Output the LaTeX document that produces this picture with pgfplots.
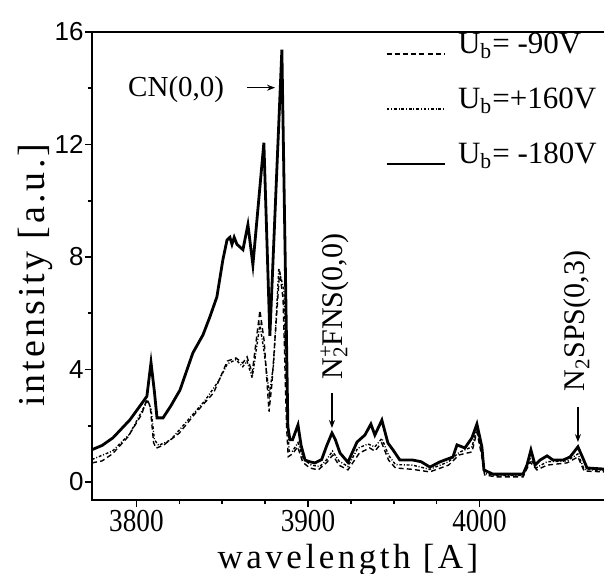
\documentclass[border=0pt]{standalone}
\usepackage{fontspec}
\setmainfont{Liberation Serif}
\newfontfamily\arialfont{Liberation Sans}
\usepackage{graphicx}
\usepackage{pgfplots}
\pgfplotsset{compat=1.18}
\usetikzlibrary{arrows.meta}

% spectra (intensity in a.u. vs wavelength in A)
\pgfplotstableread{
x y
3774.1 0.68
3780 0.75
3786 1.0
3795 1.6
3803 2.4
3806.1 2.95
3808 2.7
3810 1.4
3811.5 1.2
3816 1.32
3825 1.74
3835 2.49
3845 3.17
3853 4.3
3858 4.41
3862 4.23
3864.5 4.45
3867.5 3.88
3872 6.1
3874.5 5.0
3877.3 2.5
3879 3.5
3883.5 7.5
3885.5 6.5
3887.5 2.0
3888.5 0.9
3891 1.0
3894 1.25
3897 0.7
3901 0.5
3906 0.43
3911 0.7
3914.5 0.96
3918 0.6
3923.3 0.43
3930 1.03
3936 1.21
3939 1.1
3943 1.39
3947 0.78
3951 0.5
3961 0.45
3971 0.36
3982 0.6
3988 0.96
3995.6 1.07
3998.5 1.78
4001.4 0.9
4003 0.25
4010 0.18
4025.4 0.18
4029.5 0.71
4033.5 0.43
4039.4 0.6
4051 0.68
4057.4 0.89
4061 0.39
4072.6 0.36
}\minusninety

\pgfplotstableread{
x y
3774.1 0.8
3786 1.1
3796 1.7
3803 2.5
3806.5 2.9
3808.5 2.6
3810.5 1.5
3813 1.3
3820 1.5
3830 2.2
3840 2.9
3848 3.6
3853 4.2
3858 4.35
3862 4.1
3864.5 4.3
3867.5 3.7
3872 5.6
3874.5 4.6
3877.5 3.1
3880 4.2
3883 7.6
3886 6.8
3887.8 2.5
3889 1.1
3891 1.1
3894.2 1.4
3897.5 0.8
3902 0.6
3907 0.55
3911 0.8
3914.3 1.1
3918 0.75
3923.3 0.55
3929 1.2
3935 1.35
3939 1.25
3943.1 1.55
3947 0.95
3951 0.62
3961 0.6
3971 0.45
3982 0.72
3988 1.05
3995.6 1.25
3998.5 1.9
4001.4 1.0
4003 0.3
4010 0.23
4025.4 0.23
4029 0.9
4033 0.5
4039.4 0.72
4051 0.75
4057.4 1.0
4061 0.45
4072.6 0.4
}\plusonesixty

\pgfplotstableread{
x y
3774.1 1.15
3780 1.3
3786.3 1.57
3796.2 2.21
3803.8 2.85
3806.1 3.05
3808.5 4.25
3810.5 3.2
3812.0 2.28
3815.5 2.28
3820 2.7
3825.4 3.27
3832.9 4.59
3838.8 5.23
3843 5.9
3846.9 6.58
3850.4 7.9
3852.8 8.6
3854.5 8.7
3855.7 8.45
3857 8.7
3858.6 8.45
3862.1 8.26
3865.0 9.15
3867.9 7.72
3874.3 12.06
3877.8 5.2
3884.8 15.37
3888.3 1.96
3889.5 1.5
3891 1.5
3894.2 2.03
3896 1.3
3898.3 0.78
3901 0.72
3904.1 0.68
3908 0.8
3911 1.3
3914.0 1.74
3916 1.5
3918.7 1.03
3923.3 0.7
3928.6 1.42
3933.2 1.67
3936.7 2.06
3939.0 1.67
3943.1 2.2
3946.6 1.39
3949.6 1.14
3953.6 0.78
3961.2 0.78
3966 0.72
3971.1 0.53
3976.7 0.71
3984.5 0.89
3986.9 1.32
3991.5 1.21
3995.6 1.57
3998.5 2.06
4001.4 1.25
4002.6 0.43
4007.8 0.28
4025.4 0.28
4027.7 0.6
4030.0 1.14
4032.4 0.6
4035.3 0.78
4039.4 0.93
4042.9 0.78
4048.7 0.78
4052.8 0.89
4057.4 1.25
4060.3 0.85
4062.7 0.5
4072.6 0.46
}\minusoneeighty

\begin{document}
\begin{tikzpicture}
\useasboundingbox (0,0) rectangle (302pt,286.5pt);
\begin{axis}[
  at={(46pt,36.5pt)}, anchor=south west,
  width=256pt, height=234pt, scale only axis,
  xmin=3774.1, xmax=4072.6, ymin=-0.64, ymax=16,
  axis line style={draw=none},
  xtick={3800,3900,4000},
  xticklabels={\scalebox{0.85}[1]{3800},\scalebox{0.85}[1]{3900},\scalebox{0.85}[1]{4000}},
  minor x tick num=3,
  ytick={0,4,8,12,16}, minor y tick num=1,
  tick align=outside, xtick pos=bottom, ytick pos=left,
  major tick length=3.5pt, minor tick length=2.2pt,
  tick style={black, line width=0.8pt},
  /pgf/number format/assume math mode=true,
  yticklabel style={font=\arialfont\fontsize{13}{15}\selectfont, inner sep=0.5pt},
  xticklabel style={font=\fontsize{16}{18}\selectfont, inner sep=0pt, yshift=-1.5pt},
  clip mode=individual,
  legend style={at={(rel axis cs:0.572,1)}, anchor=north west, draw=none, fill=none,
    font=\fontsize{15.5}{18}\selectfont, inner sep=0pt, row sep=0pt,
    nodes={inner sep=0pt, text height=10.5pt, text depth=17pt},
    /tikz/every odd column/.append style={column sep=6pt}},
  legend cell align=left,
  legend image code/.code={\draw[#1] (0pt,3pt) -- (29pt,3pt);},
]
\addplot[black, line width=0.7pt, dash pattern=on 2.5pt off 1.6pt] table {\minusninety};
\addlegendentry{U\textsubscript{b}= -90V}
\addplot[black, line width=0.7pt, dash pattern=on 1.4pt off 0.9pt on 0.5pt off 0.9pt] table {\plusonesixty};
\addlegendentry{U\textsubscript{b}=+160V}
\addplot[black, line width=1.4pt] table {\minusoneeighty};
\addlegendentry{U\textsubscript{b}= -180V}

% frame: left, bottom and top only (right side is cut off in the scan)
\draw[line width=1pt] (rel axis cs:1,1) -- (rel axis cs:0,1) -- (rel axis cs:0,0) -- (rel axis cs:1,0);

% annotations
\node[anchor=base west, inner sep=0pt, font=\fontsize{14.5}{16}\selectfont] at (axis cs:3795,13.7) {CN(0,0)};
\draw[-{Stealth[length=4pt,width=3pt]}, line width=0.6pt] (axis cs:3864.4,14.02) -- (axis cs:3880.8,14.02);
\node[rotate=90, anchor=base west, inner sep=0pt, font=\fontsize{15}{17}\selectfont]
  at (axis cs:3920.4,3.63) {N\makebox[0pt][l]{\textsuperscript{+}}\textsubscript{2}FNS(0,0)};
\draw[-{Stealth[length=4pt,width=3pt]}, line width=0.6pt] (axis cs:3914,3.17) -- (axis cs:3914,1.92);
\node[rotate=90, anchor=base west, inner sep=0pt, font=\fontsize{15}{17}\selectfont]
  at (axis cs:4061.5,3.2) {N\textsubscript{2}SPS(0,3)};
\draw[-{Stealth[length=4pt,width=3pt]}, line width=0.6pt] (axis cs:4057.4,2.67) -- (axis cs:4057.4,1.42);

% axis titles
\node[rotate=90, anchor=base, inner sep=0pt, font=\fontsize{19}{22}\selectfont\addfontfeature{LetterSpace=8}]
  at ([xshift=-24pt]rel axis cs:0,0.48) {intensity [a.u.]};
\node[anchor=base, inner sep=0pt, font=\fontsize{17.5}{21}\selectfont\addfontfeature{LetterSpace=10}]
  at ([yshift=-34pt]rel axis cs:0.5,0) {wavelength [A]};
\end{axis}
\end{tikzpicture}
\end{document}
